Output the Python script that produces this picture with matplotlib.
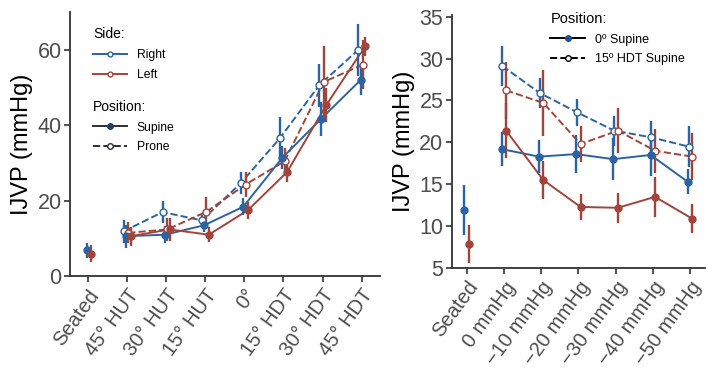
import numpy as np
import matplotlib.pyplot as plt
from matplotlib.lines import Line2D

plt.rcParams['font.family'] = ['Liberation Sans', 'DejaVu Sans']

BLUE = '#2b63a3'
RED = '#a3443b'
DARK = '#2e2e3a'

# left panel: tilt positions
tilt_labels = ['Seated', '45° HUT', '30° HUT', '15° HUT', '0°', '15° HDT', '30° HDT', '45° HDT']
r_sup = [6.9, 10.6, 11.0, 13.5, 18.4, 31.4, 41.8, 52.0]
r_sup_err = [2.0, 3.0, 2.3, 1.8, 2.3, 3.0, 4.5, 4.0]
l_sup = [6.0, 10.6, 12.4, 11.0, 17.5, 27.6, 45.3, 61.0]
l_sup_err = [2.2, 2.5, 3.0, 2.0, 2.3, 2.5, 4.5, 2.5]
# prone has no seated value
r_pro = [np.nan, 11.9, 17.0, 14.8, 24.7, 36.6, 50.6, 60.0]
r_pro_err = [np.nan, 3.0, 3.0, 1.5, 3.0, 5.5, 5.8, 7.0]
l_pro = [np.nan, 11.5, 12.4, 17.1, 24.3, 30.5, 51.5, 56.1]
l_pro_err = [np.nan, 2.8, 3.0, 4.0, 3.3, 3.5, 9.5, 6.5]

# right panel: LBNP levels
lbnp_labels = ['Seated', '0 mmHg', '−10 mmHg', '−20 mmHg', '−30 mmHg', '−40 mmHg', '−50 mmHg']
b_flat = [11.9, 19.2, 18.3, 18.6, 18.0, 18.5, 15.3]
b_flat_err = [3.0, 2.0, 2.0, 2.3, 2.5, 2.5, 1.5]
r_flat = [7.9, 21.4, 15.5, 12.3, 12.2, 13.5, 10.9]
r_flat_err = [2.3, 3.3, 2.3, 1.5, 1.8, 2.4, 1.7]
b_hdt = [np.nan, 29.1, 25.9, 23.6, 21.4, 20.6, 19.5]
b_hdt_err = [np.nan, 2.4, 1.8, 1.6, 1.8, 2.0, 2.4]
r_hdt = [np.nan, 26.2, 24.7, 19.8, 21.4, 19.0, 18.3]
r_hdt_err = [np.nan, 3.4, 3.9, 2.2, 2.7, 2.6, 2.8]

fig = plt.figure(figsize=(7.07, 3.82), dpi=100)
ax1 = fig.add_axes([0.099, 0.277, 0.438, 0.691])
ax2 = fig.add_axes([0.639, 0.298, 0.358, 0.663])


def series(ax, y, err, color, dashed, off):
    x = np.arange(len(y)) + off
    y = np.array(y, dtype=float)
    err = np.array(err, dtype=float)
    ls = '--' if dashed else '-'
    fc = 'white' if dashed else color
    # seated point is not joined to the rest
    ax.plot(x[1:], y[1:], ls, color=color, lw=1.4, zorder=2)
    ax.errorbar(x, y, yerr=err, fmt='none', ecolor=color, elinewidth=1.7, zorder=3)
    ax.plot(x, y, 'o', ms=5, mfc=fc, mec=color, mew=1.0, zorder=4)


series(ax1, r_pro, r_pro_err, BLUE, True, -0.09)
series(ax1, l_pro, l_pro_err, RED, True, 0.03)
series(ax1, r_sup, r_sup_err, BLUE, False, -0.03)
series(ax1, l_sup, l_sup_err, RED, False, 0.09)

series(ax2, b_hdt, b_hdt_err, BLUE, True, -0.04)
series(ax2, r_hdt, r_hdt_err, RED, True, 0.06)
series(ax2, b_flat, b_flat_err, BLUE, False, -0.06)
series(ax2, r_flat, r_flat_err, RED, False, 0.06)

ax1.set_xlim(-0.46, 7.46)
ax1.set_ylim(0, 70)
ax1.set_yticks([0, 20, 40, 60])
ax1.set_xticks(range(len(tilt_labels)))
ax1.set_xticklabels(tilt_labels)

ax2.set_xlim(-0.4, 6.4)
ax2.set_ylim(5, 35.2)
ax2.set_yticks([5, 10, 15, 20, 25, 30, 35])
ax2.set_xticks(range(len(lbnp_labels)))
ax2.set_xticklabels(lbnp_labels)

for ax in (ax1, ax2):
    for s in ('top', 'right'):
        ax.spines[s].set_visible(False)
    for s in ('left', 'bottom'):
        ax.spines[s].set_linewidth(1.3)
        ax.spines[s].set_color('#333333')
    ax.tick_params(axis='y', labelsize=15.5, pad=2)
    ax.tick_params(axis='x', labelsize=14.5, pad=3)
    ax.tick_params(axis='both', labelcolor='#4d4d4d', color='#333333', width=1.2, length=4)
    for lab in ax.get_xticklabels():
        lab.set_rotation(54)
        lab.set_ha('right')
        lab.set_rotation_mode('anchor')
    ax.set_ylabel('IJVP (mmHg)', fontsize=17, labelpad=3)

# legends
side_h = [Line2D([], [], color=BLUE, lw=1.4, marker='o', ms=3.5, mfc='white', mec=BLUE),
          Line2D([], [], color=RED, lw=1.4, marker='o', ms=3.5, mfc='white', mec=RED)]
leg1 = ax1.legend(side_h, ['Right', 'Left'], title='Side:', loc='upper left',
                  bbox_to_anchor=(0.04, 0.985), frameon=False, fontsize=8.7,
                  title_fontsize=10, handlelength=2.8, labelspacing=0.65, alignment='left')
ax1.add_artist(leg1)
pos_h = [Line2D([], [], color=DARK, lw=1.4, marker='o', ms=4, mfc='#1f3f73', mec='#1f3f73'),
         Line2D([], [], color=DARK, lw=1.4, ls='--', marker='o', ms=4, mfc='white', mec=DARK)]
ax1.legend(pos_h, ['Supine', 'Prone'], title='Position:', loc='upper left',
           bbox_to_anchor=(0.04, 0.71), frameon=False, fontsize=8.7,
           title_fontsize=10, handlelength=2.8, labelspacing=0.65, alignment='left')

pos2_h = [Line2D([], [], color='black', lw=1.4, marker='o', ms=4, mfc='#1f4f8f', mec='#1f4f8f'),
          Line2D([], [], color='black', lw=1.4, ls='--', marker='o', ms=4, mfc='white', mec='black')]
ax2.legend(pos2_h, ['0º Supine', '15º HDT Supine'], title='Position:', loc='upper left',
           bbox_to_anchor=(0.345, 1.055), frameon=False, fontsize=9,
           title_fontsize=10.5, handlelength=2.8, labelspacing=0.6, alignment='left')

fig.savefig('out.png', dpi=100)
